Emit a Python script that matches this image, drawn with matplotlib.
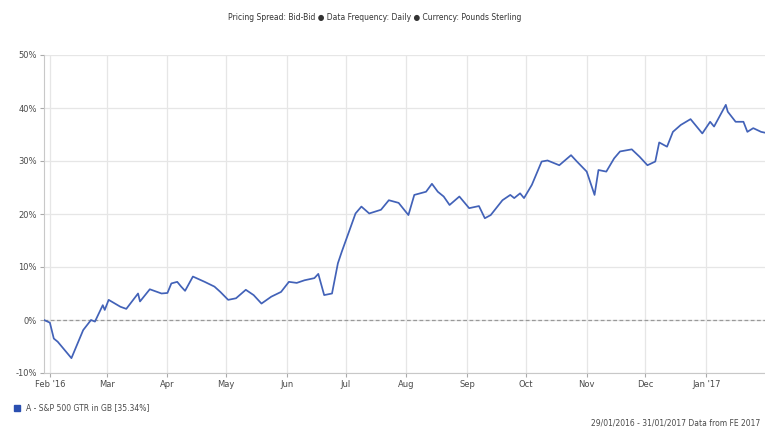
import matplotlib
matplotlib.use("Agg")
import matplotlib.pyplot as plt
import matplotlib.dates as mdates
import pandas as pd

dates = [
    "2016-01-29", "2016-02-01", "2016-02-03", "2016-02-05", "2016-02-12", "2016-02-18",
    "2016-02-22", "2016-02-24", "2016-02-28", "2016-02-29", "2016-03-02", "2016-03-08",
    "2016-03-11", "2016-03-17", "2016-03-18", "2016-03-23", "2016-03-29", "2016-04-01",
    "2016-04-03", "2016-04-06", "2016-04-08", "2016-04-10", "2016-04-14", "2016-04-20",
    "2016-04-25", "2016-04-28", "2016-05-02", "2016-05-06", "2016-05-11", "2016-05-15",
    "2016-05-19", "2016-05-24", "2016-05-29", "2016-06-02", "2016-06-06", "2016-06-10",
    "2016-06-15", "2016-06-17", "2016-06-20", "2016-06-24", "2016-06-27", "2016-06-29",
    "2016-07-03", "2016-07-06", "2016-07-09", "2016-07-13", "2016-07-19", "2016-07-23",
    "2016-07-28", "2016-08-02", "2016-08-05", "2016-08-11", "2016-08-14", "2016-08-17",
    "2016-08-20", "2016-08-23", "2016-08-28", "2016-09-02", "2016-09-07", "2016-09-10",
    "2016-09-13", "2016-09-19", "2016-09-23", "2016-09-25", "2016-09-28", "2016-09-30",
    "2016-10-04", "2016-10-09", "2016-10-12", "2016-10-18", "2016-10-24", "2016-10-27",
    "2016-11-01", "2016-11-05", "2016-11-07", "2016-11-11", "2016-11-15", "2016-11-18",
    "2016-11-24", "2016-11-28", "2016-12-02", "2016-12-06", "2016-12-08", "2016-12-12",
    "2016-12-15", "2016-12-19", "2016-12-24", "2016-12-30", "2017-01-03", "2017-01-05",
    "2017-01-11", "2017-01-12", "2017-01-16", "2017-01-20", "2017-01-22", "2017-01-25",
    "2017-01-29", "2017-01-31",
]
returns = [
    0.0, -0.5, -3.5, -4.1, -7.2, -1.9,
    0.0, -0.3, 2.8, 1.9, 3.8, 2.5,
    2.1, 5.0, 3.5, 5.8, 5.0, 5.1,
    6.9, 7.2, 6.3, 5.5, 8.2, 7.2,
    6.3, 5.3, 3.8, 4.1, 5.7, 4.7,
    3.1, 4.4, 5.3, 7.2, 7.0, 7.5,
    7.9, 8.7, 4.7, 5.0, 10.7, 12.9,
    17.0, 20.1, 21.4, 20.1, 20.8, 22.6,
    22.1, 19.8, 23.6, 24.2, 25.7, 24.2,
    23.3, 21.7, 23.3, 21.1, 21.5, 19.2,
    19.8, 22.6, 23.6, 23.0, 23.9, 23.0,
    25.5, 29.9, 30.1, 29.2, 31.1, 29.9,
    28.0, 23.6, 28.3, 28.0, 30.5, 31.8,
    32.2, 30.8, 29.2, 29.9, 33.5, 32.7,
    35.5, 36.8, 37.9, 35.2, 37.4, 36.5,
    40.6, 39.3, 37.4, 37.4, 35.5, 36.2,
    35.5, 35.34,
]
y_ticks = [-10, 0, 10, 20, 30, 40, 50]
x_tick_dates = ["2016-02-01", "2016-03-01", "2016-04-01", "2016-05-01", "2016-06-01",
                "2016-07-01", "2016-08-01", "2016-09-01", "2016-10-01", "2016-11-01",
                "2016-12-01", "2017-01-01"]
x_tick_labels = ["Feb '16", "Mar", "Apr", "May", "Jun", "Jul", "Aug", "Sep", "Oct",
                 "Nov", "Dec", "Jan '17"]
series_name = "A - S&P 500 GTR in GB [35.34%]"
title = "Pricing Spread: Bid-Bid \u25cf Data Frequency: Daily \u25cf Currency: Pounds Sterling"
footer = "29/01/2016 - 31/01/2017 Data from FE 2017"

line_color = "#4262b8"
grid_color = "#e6e6e6"
text_color = "#4a4a4a"

x = pd.to_datetime(dates)
xt = pd.to_datetime(x_tick_dates)

fig = plt.figure(figsize=(7.65, 4.30), dpi=100)
ax = fig.add_axes([44 / 765, 57 / 430, (765 - 44) / 765, (373 - 55) / 430])

ax.plot(x, returns, color=line_color, lw=1.25, solid_joinstyle="round", zorder=3)
ax.axhline(0, color="#999999", lw=0.9, ls=(0, (3, 2)), zorder=2)

ax.set_xlim(pd.Timestamp("2016-01-29"), pd.Timestamp("2017-01-31"))
ax.set_ylim(-10, 50)
ax.set_yticks(y_ticks)
ax.set_yticklabels([f"{v}%" for v in y_ticks])
ax.set_xticks(xt)
ax.set_xticklabels(x_tick_labels)

ax.grid(True, color=grid_color, lw=0.9, zorder=0)
for s in ["top", "right"]:
    ax.spines[s].set_visible(False)
ax.spines["left"].set_color("#c8c8c8")
ax.spines["bottom"].set_color("#c8c8c8")
ax.tick_params(axis="both", colors="#aaaaaa", labelcolor=text_color, labelsize=6,
               length=3, width=0.8, pad=2)

fig.text(375 / 765, 1 - 17 / 430, title, ha="center", va="center", fontsize=5.5,
         color="#333333")
fig.patches.append(plt.Rectangle((14 / 765, 1 - 411 / 430), 6 / 765, 6 / 430,
                                 transform=fig.transFigure, color="#2a4fb0"))
fig.text(26 / 765, 1 - 408 / 430, series_name, ha="left", va="center", fontsize=5.5,
         color=text_color)
fig.text(760 / 765, 1 - 423 / 430, footer, ha="right", va="center", fontsize=5.5,
         color=text_color)

fig.savefig("out.png", dpi=100)
